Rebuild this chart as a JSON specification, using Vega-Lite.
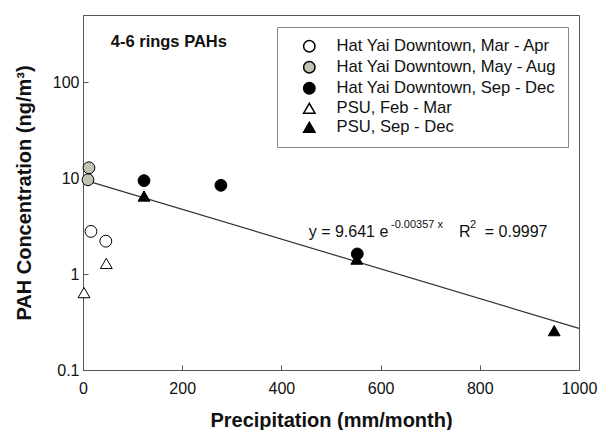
{
  "$schema": "https://vega.github.io/schema/vega-lite/v6.json",
  "width": 496,
  "height": 355,
  "autosize": "none",
  "padding": {"left": 83, "top": 15, "right": 20, "bottom": 60},
  "background": "white",
  "config": {
    "font": "Liberation Sans",
    "view": {"stroke": "#555", "strokeWidth": 1},
    "axis": {
      "grid": false,
      "domainColor": "#555",
      "tickColor": "#555",
      "labelColor": "#111",
      "titleColor": "#111",
      "labelFont": "Liberation Sans",
      "titleFont": "Liberation Sans",
      "labelFontSize": 16,
      "titleFontSize": 20,
      "titleFontWeight": "bold",
      "tickSize": -5,
      "labelFlush": false
    },
    "legend": {
      "orient": "none",
      "legendX": 194,
      "legendY": 12,
      "padding": 11,
      "strokeColor": "#888",
      "fillColor": "white",
      "labelFont": "Liberation Sans",
      "labelFontSize": 16.6,
      "labelColor": "#111",
      "labelLimit": 400,
      "symbolSize": 130,
      "rowPadding": 2,
      "symbolOffset": 13,
      "labelOffset": 19
    }
  },
  "datasets": {
    "points": [
      {"series": "Hat Yai Downtown, Mar - Apr", "precip": 16, "pah": 2.78},
      {"series": "Hat Yai Downtown, Mar - Apr", "precip": 46, "pah": 2.2},
      {"series": "Hat Yai Downtown, May - Aug", "precip": 12, "pah": 12.8},
      {"series": "Hat Yai Downtown, May - Aug", "precip": 10, "pah": 9.6},
      {"series": "Hat Yai Downtown, Sep - Dec", "precip": 123, "pah": 9.4},
      {"series": "Hat Yai Downtown, Sep - Dec", "precip": 278, "pah": 8.4},
      {"series": "Hat Yai Downtown, Sep - Dec", "precip": 553, "pah": 1.62},
      {"series": "PSU, Feb - Mar", "precip": 2, "pah": 0.64},
      {"series": "PSU, Feb - Mar", "precip": 47, "pah": 1.29},
      {"series": "PSU, Sep - Dec", "precip": 123, "pah": 6.5},
      {"series": "PSU, Sep - Dec", "precip": 552, "pah": 1.43},
      {"series": "PSU, Sep - Dec", "precip": 950, "pah": 0.257}
    ],
    "fit": [
      {"precip": 0, "pah": 9.641},
      {"precip": 1000, "pah": 0.2715}
    ],
    "notes": [
      {"kind": "title", "text": "4-6 rings PAHs", "precip": 56, "pah": 260},
      {"kind": "main", "text": "y = 9.641 e", "precip": 455, "pah": 2.77},
      {"kind": "sup", "text": "-0.00357 x", "precip": 621, "pah": 3.25},
      {"kind": "main", "text": "R", "precip": 758, "pah": 2.77},
      {"kind": "sup", "text": "2", "precip": 780, "pah": 3.25},
      {"kind": "main", "text": "= 0.9997", "precip": 810, "pah": 2.77}
    ]
  },
  "layer": [
    {
      "data": {"name": "fit"},
      "mark": {"type": "line", "color": "#333", "strokeWidth": 1.2},
      "encoding": {
        "x": {
          "field": "precip",
          "type": "quantitative",
          "scale": {"domain": [0, 1000], "nice": false, "zero": false},
          "axis": {"values": [0, 200, 400, 600, 800, 1000], "format": "d", "title": "Precipitation (mm/month)", "labelPadding": 15, "titlePadding": 14}
        },
        "y": {
          "field": "pah",
          "type": "quantitative",
          "scale": {"type": "log", "domain": [0.1, 500], "nice": false},
          "axis": {"values": [0.1, 1, 10, 100], "format": ".1~f", "title": "PAH Concentration (ng/m³)", "labelPadding": 9, "titlePadding": 18}
        }
      }
    },
    {
      "data": {"name": "points"},
      "mark": {"type": "point", "stroke": "black", "strokeWidth": 1, "opacity": 1, "size": 140},
      "encoding": {
        "x": {"field": "precip", "type": "quantitative"},
        "y": {"field": "pah", "type": "quantitative"},
        "fill": {
          "field": "series",
          "type": "nominal",
          "scale": {
            "domain": ["Hat Yai Downtown, Mar - Apr", "Hat Yai Downtown, May - Aug", "Hat Yai Downtown, Sep - Dec", "PSU, Feb - Mar", "PSU, Sep - Dec"],
            "range": ["white", "#c2c2b2", "black", "white", "black"]
          },
          "legend": {"title": null, "labelFontSize": 16.6}
        },
        "shape": {
          "field": "series",
          "type": "nominal",
          "scale": {
            "domain": ["Hat Yai Downtown, Mar - Apr", "Hat Yai Downtown, May - Aug", "Hat Yai Downtown, Sep - Dec", "PSU, Feb - Mar", "PSU, Sep - Dec"],
            "range": ["circle", "circle", "circle", "triangle-up", "triangle-up"]
          },
          "legend": {"title": null, "labelFontSize": 16.6}
        }
      }
    },
    {
      "data": {"name": "notes"},
      "transform": [{"filter": "datum.kind === 'title'"}],
      "mark": {"type": "text", "align": "left", "baseline": "middle", "fontSize": 16.5, "fontWeight": "bold", "color": "#111"},
      "encoding": {
        "x": {"field": "precip", "type": "quantitative"},
        "y": {"field": "pah", "type": "quantitative"},
        "text": {"field": "text"}
      }
    },
    {
      "data": {"name": "notes"},
      "transform": [{"filter": "datum.kind === 'main'"}],
      "mark": {"type": "text", "align": "left", "baseline": "middle", "fontSize": 16, "color": "#111"},
      "encoding": {
        "x": {"field": "precip", "type": "quantitative"},
        "y": {"field": "pah", "type": "quantitative"},
        "text": {"field": "text"}
      }
    },
    {
      "data": {"name": "notes"},
      "transform": [{"filter": "datum.kind === 'sup'"}],
      "mark": {"type": "text", "align": "left", "baseline": "middle", "fontSize": 11, "color": "#111"},
      "encoding": {
        "x": {"field": "precip", "type": "quantitative"},
        "y": {"field": "pah", "type": "quantitative"},
        "text": {"field": "text"}
      }
    }
  ]
}
